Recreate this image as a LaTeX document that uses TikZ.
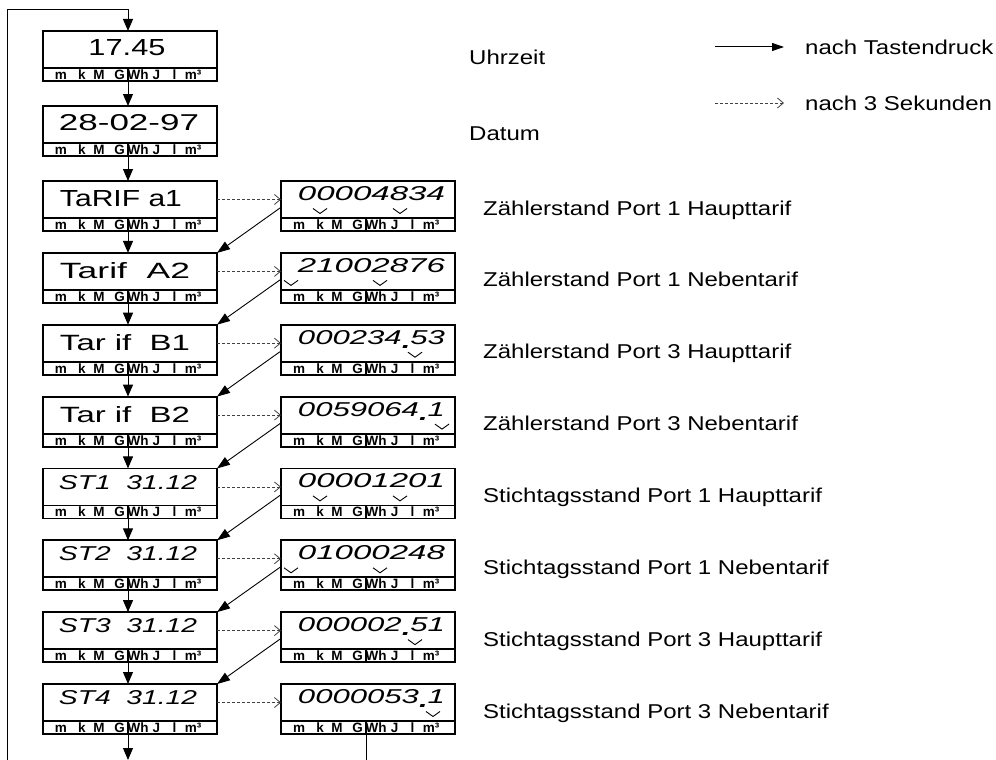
\documentclass[tikz,border=0pt]{standalone}
\usepackage{fontspec}
\setmainfont{Liberation Sans}
\newfontfamily\lblfont[FakeStretch=1.2]{Liberation Sans}
\usetikzlibrary{arrows.meta,calc}
\newcommand\unitstrip[1]{%
  \foreach \ux/\ut [count=\k] in {18/m,39/k,56/M,76.5/G,95/Wh,113.5/J,131.5/l,150/m³}{%
    \node[unit] (#1u\k) at ($(#1.south west)+(\ux,-1.6)$) {\ut};}%
  \draw[line width=1.1pt] ($(#1.north west)+(85,0)$) -- ($(#1.south west)+(85,0)$);}
\newcommand\dpt{\raisebox{-2pt}{\bfseries .}}
\begin{document}
\begin{tikzpicture}[x=1pt,y=-1pt,
  mainbox/.style={draw, line width=1.8pt, minimum width=174pt, minimum height=37pt, inner sep=0pt, outer sep=0pt, anchor=north west},
  stripbox/.style={draw, line width=1.8pt, minimum width=174pt, minimum height=13pt, inner sep=0pt, outer sep=0pt, anchor=north west},
  unit/.style={font=\bfseries\fontsize{13.5}{15}\selectfont, inner sep=0pt, anchor=base},
  disp/.style={inner sep=0pt, anchor=center},
  dispb/.style={inner sep=0pt, anchor=base},
  lbl/.style={font=\lblfont\fontsize{20}{24}\selectfont, inner sep=0pt, anchor=base west},
  dn/.style={line width=1pt, -{Triangle[width=10pt,length=12pt]}},
  diag/.style={line width=0.9pt, -{Triangle[width=9pt,length=13pt]}},
  dsh/.style={line width=0.8pt, black!75, dash pattern=on 3pt off 2pt, -{Straight Barb[length=6pt,width=10pt]}},
  legsolid/.style={line width=1pt, -{Triangle[width=8pt,length=12pt]}},
  chev/.style={line width=0.9pt},
  plain/.style={line width=0.9pt},
]
\useasboundingbox (0,0) rectangle (996,760);

% left column boxes
\foreach \i/\t in {1/31,2/106,3/181,4/252.9,5/324.7,6/396.6,7/468.4,8/540.3,9/612.1,10/684}{
  \node[mainbox] (L\i) at (43,\t) {};
  \node[stripbox] (Ls\i) at (L\i.south west) {};
  \unitstrip{Ls\i}
}
% right column boxes
\foreach \i/\t in {3/181,4/252.9,5/324.7,6/396.6,7/468.4,8/540.3,9/612.1,10/684}{
  \node[mainbox] (R\i) at (281,\t) {};
  \node[stripbox] (Rs\i) at (R\i.south west) {};
  \unitstrip{Rs\i}
}

% left display texts
\node[disp] (T1) at ($(L1.north west)+(84,16.5)$) {\resizebox{77pt}{16pt}{17.45}};
\node[disp] (T2) at ($(L2.north west)+(86,16.5)$) {\resizebox{140pt}{16pt}{28-02-97}};
\node[disp] (T3) at ($(L3.north west)+(78,18)$) {\resizebox{122pt}{16pt}{TaRIF a1}};
\node[disp] (T4) at ($(L4.north west)+(82,18)$) {\resizebox{130pt}{16pt}{Tarif\ \ A2}};
\node[disp] (T5) at ($(L5.north west)+(82,18)$) {\resizebox{130pt}{16pt}{Tar if\ \ B1}};
\node[disp] (T6) at ($(L6.north west)+(82,18)$) {\resizebox{130pt}{16pt}{Tar if\ \ B2}};
\foreach \i/\n in {7/1,8/2,9/3,10/4}{
  \node[disp] (T\i) at ($(L\i.north west)+(85,13.7)$) {\resizebox{138pt}{14pt}{\itshape ST\n\ \ 31.12}};
}

% right display texts
\foreach \i/\v in {3/00004834,4/21002876,5/000234\dpt53,6/0059064\dpt1,7/00001201,8/01000248,9/000002\dpt51,10/0000053\dpt1}{
  \node[dispb] (V\i) at ($(R\i.north west)+(90.5,19.5)$) {\resizebox{147pt}{14pt}{\itshape \v}};
}

% chevrons
\foreach \i/\cx in {3/39,3/119,4/10,4/99,5/134,6/161,7/39,7/119,8/10,8/99,9/134,10/152}{
  \draw[chev] ($(R\i.north west)+(\cx-7,27.5)$) -- ++(7,5) -- ++(7,-5);
}

% down arrows
\foreach \i [evaluate=\i as \j using int(\i+1)] in {1,...,9}{
  \draw[dn] ($(Ls\i.south west)+(85,0)$) -- ($(L\j.north west)+(85,0)$);
}
\coordinate (b1) at (128,760);
\draw[dn] ($(Ls10.south west)+(85,0)$) -- (b1);
\coordinate (b2) at (366,760);
\draw[plain] ($(Rs10.south west)+(85,0)$) -- (b2);

% loop
\coordinate (lb) at (7,760);
\coordinate (lt) at (7,10);
\draw[dn] (lb) -- (lt) -| ($(L1.north west)+(85,0)$);

% dashed arrows
\foreach \i in {3,...,10}{
  \draw[dsh] (L\i.east) -- (R\i.west);
}
% diagonal arrows
\foreach \i [evaluate=\i as \j using int(\i+1)] in {3,...,9}{
  \draw[diag] ($(R\i.north west)+(-1,27)$) -- (L\j.north east);
}

% labels
\node[lbl] (U) at (469,64.2) {Uhrzeit};
\node[lbl] (D) at (469,140.2) {Datum};
\foreach \i/\txt in {3/Zählerstand Port 1 Haupttarif,4/Zählerstand Port 1 Nebentarif,5/Zählerstand Port 3 Haupttarif,6/Zählerstand Port 3 Nebentarif,7/Stichtagsstand Port 1 Haupttarif,8/Stichtagsstand Port 1 Nebentarif,9/Stichtagsstand Port 3 Haupttarif,10/Stichtagsstand Port 3 Nebentarif}{
  \node[lbl] (N\i) at ($(R\i.north west)+(202,34)$) {\txt};
}

% legend
\coordinate (ls1) at (715,47);
\coordinate (le1) at (784,47);
\draw[legsolid] (ls1) -- (le1);
\node[lbl] (lg1) at (805,54.2) {nach Tastendruck};
\coordinate (ls2) at (715,103);
\coordinate (le2) at (784,103);
\draw[dsh] (ls2) -- (le2);
\node[lbl] (lg2) at (805,110.2) {nach 3 Sekunden};
\end{tikzpicture}
\end{document}
